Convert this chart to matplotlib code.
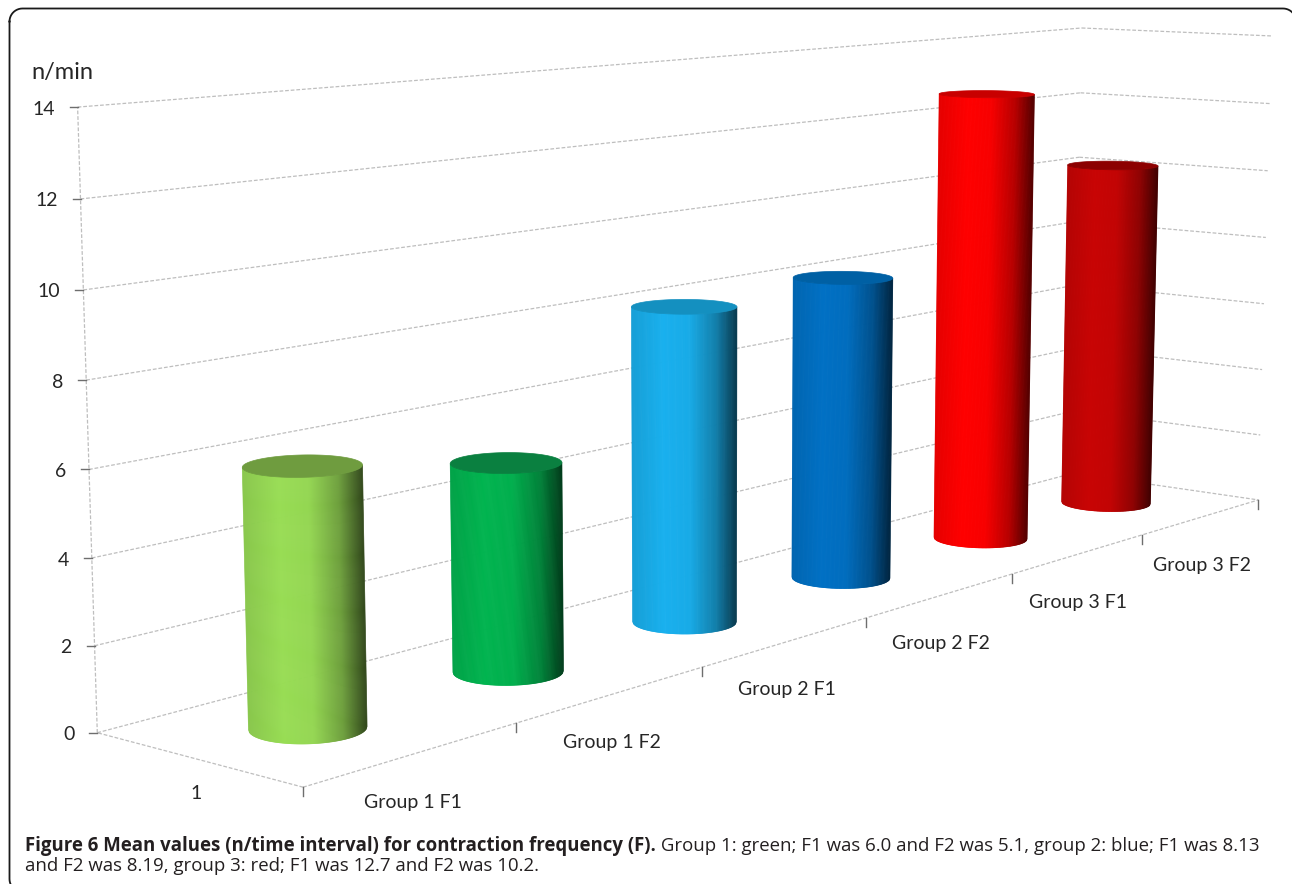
#!/usr/bin/env python3

import numpy as np
import matplotlib
matplotlib.use("Agg")
import matplotlib.pyplot as plt
from matplotlib.collections import PolyCollection
from matplotlib.patches import Polygon
from matplotlib.colors import to_rgb

categories = ["Group 1 F1", "Group 1 F2", "Group 2 F1", "Group 2 F2", "Group 3 F1", "Group 3 F2"]
values = [6.0, 5.1, 8.13, 8.19, 12.7, 10.2]
value_ticks = [0, 2, 4, 6, 8, 10, 12, 14]
depth_label = "1"
unit_label = "n/min"

bar_colors = ["#98dd54", "#00b44f", "#18b0ee", "#0070c4", "#ff0000", "#c80404"]
cap_colors = ["#6f9c3f", "#0a8040", "#1490c0", "#0060a4", "#c80000", "#8c0000"]

caption_bold = "Figure 6 Mean values (n/time interval) for contraction frequency (F)."
caption_rest = " Group 1: green; F1 was 6.0 and F2 was 5.1, group 2: blue; F1 was 8.13"
caption_line2 = "and F2 was 8.19, group 3: red; F1 was 12.7 and F2 was 10.2."

WIDTH, HEIGHT = 1292, 884
GRID = "#bebebe"
TICK = "#6e6e6e"
TEXT = "#262626"

plt.rcParams["font.family"] = ["Lato", "DejaVu Sans"]

fig = plt.figure(figsize=(WIDTH / 100, HEIGHT / 100), dpi=100)
ax = fig.add_axes([0, 0, 1, 1])
ax.set_xlim(0, WIDTH)
ax.set_ylim(HEIGHT, 0)
ax.axis("off")

### Camera: fitted from where the corners of the chart box land on the page
n_cat = len(categories)
z_top = value_ticks[-1]
corners = [
    ((0, 0, 0), (303, 787)),
    ((n_cat, 0, 0), (1257, 500)),
    ((0, 1, 0), (97, 733)),
    ((n_cat, 1, 0), (1075, 473)),
    ((0, 1, z_top), (78, 107)),
    ((n_cat, 1, z_top), (1080, 28)),
    ((n_cat, 0, z_top), (1273, 36)),
]
rows, rhs = [], []
for (X, Y, Z), (u, v) in corners:
    rows.append([X, Y, Z, 1, 0, 0, 0, 0, -u * X, -u * Y, -u * Z])
    rhs.append(u)
    rows.append([0, 0, 0, 0, X, Y, Z, 1, -v * X, -v * Y, -v * Z])
    rhs.append(v)
cam = np.append(np.linalg.lstsq(np.array(rows, float), np.array(rhs, float), rcond=None)[0], 1).reshape(3, 4)


def project(x, y, z):
    x, y, z = np.broadcast_arrays(np.asarray(x, float), np.asarray(y, float), np.asarray(z, float))
    pts = cam @ np.stack([x, y, z, np.ones_like(x)])
    return pts[0] / pts[2], pts[1] / pts[2]


def grid_line(a, b):
    s = np.linspace(0, 1, 30)
    xs, ys = project(a[0] + (b[0] - a[0]) * s, a[1] + (b[1] - a[1]) * s, a[2] + (b[2] - a[2]) * s)
    ax.plot(xs, ys, color=GRID, lw=0.9, ls=(0, (3, 1.5)), zorder=1)


### Walls and floor
for tick in value_ticks:
    grid_line((0, 1, tick), (n_cat, 1, tick))
    grid_line((n_cat, 1, tick), (n_cat, 0, tick))
    px, py = project(0, 1, tick)
    ax.plot([px - 8, px], [py, py], color=TICK, lw=1.0, zorder=2)
    ax.text(px - 23, py + 2, str(tick), ha="right", va="center", fontsize=14, color=TEXT)
grid_line((0, 1, 0), (0, 1, z_top))
grid_line((0, 0, 0), (n_cat, 0, 0))
grid_line((0, 0, 0), (0, 1, 0))

for i in range(n_cat + 1):
    px, py = project(i, 0, 0)
    ax.plot([px, px], [py, py + 9], color=TICK, lw=1.0, zorder=2)

for i, label in enumerate(categories):
    px, py = project(i + 0.5, 0, 0)
    ax.text(px, py + 48, label, ha="center", va="center", fontsize=14, color=TEXT)

px, py = project(0, 0.5, 0)
ax.text(px - 1, py + 34, depth_label, ha="center", va="center", fontsize=14, color=TEXT)
ax.text(31, 73, unit_label, ha="left", va="center", fontsize=17, color=TEXT)


### Cylinders
def shade(base, f):
    stops = [0.0, 0.3, 0.55, 0.8, 0.95, 1.0]
    gains = [0.90, 1.0, 0.97, 0.72, 0.42, 0.32]
    return tuple(np.array(to_rgb(base)) * np.interp(f, stops, gains))


def front_arc(xs, ys, grid):
    # lower edge of an ellipse on the page, read at the given page x positions
    left, right = xs.argmin(), xs.argmax()
    order = np.arange(left, right + 1) if left < right else np.arange(right, left + 1)
    outer = np.r_[np.arange(right, len(xs)), np.arange(0, left + 1)] if left < right else None
    for idx in (order, outer):
        if idx is None:
            continue
        if ys[idx].mean() > ys[[left, right]].mean():
            sort = np.argsort(xs[idx])
            return np.interp(grid, xs[idx][sort], ys[idx][sort])
    outer = np.r_[np.arange(left, len(xs)), np.arange(0, right + 1)]
    sort = np.argsort(xs[outer])
    return np.interp(grid, xs[outer][sort], ys[outer][sort])


theta = np.linspace(0, 2 * np.pi, 361)[:-1]
bands = np.linspace(0, 1, 121)
for i, value in enumerate(values):
    cx = i + 0.5 + 0.2 * np.cos(theta)
    cy = 0.5 + 0.2 * np.sin(theta)
    bx, by = project(cx, cy, 0)
    tx, ty = project(cx, cy, value)
    low_x = bx.min() + bands * (bx.max() - bx.min())
    top_x = tx.min() + bands * (tx.max() - tx.min())
    low_y = front_arc(bx, by, low_x)
    top_y = front_arc(tx, ty, top_x)
    polys, cols = [], []
    for k in range(len(bands) - 1):
        polys.append([(low_x[k], low_y[k]), (low_x[k + 1], low_y[k + 1]),
                      (top_x[k + 1], top_y[k + 1]), (top_x[k], top_y[k])])
        cols.append(shade(bar_colors[i], bands[k]))
    ax.add_collection(PolyCollection(polys, facecolors=cols, edgecolors=cols, linewidths=0.5, zorder=3 + i))
    ax.add_patch(Polygon(np.column_stack([tx, ty]), closed=True, facecolor=cap_colors[i],
                         edgecolor=cap_colors[i], lw=0.5, zorder=3 + i))

### Frame and caption, the frame runs off the bottom and right of the page
left, right, top, bottom, radius = 9.5, 1296, 8.5, 892, 13
arc = np.linspace(0, np.pi / 2, 12)
frame_x = np.r_[left + radius - radius * np.cos(arc), right - radius + radius * np.sin(arc),
                right - radius + radius * np.cos(arc), left + radius - radius * np.sin(arc)]
frame_y = np.r_[top + radius - radius * np.sin(arc), top + radius - radius * np.cos(arc),
                bottom - radius + radius * np.sin(arc), bottom - radius + radius * np.cos(arc)]
ax.plot(np.r_[frame_x, frame_x[0]], np.r_[frame_y, frame_y[0]], color="#1a1a1a", lw=1.3, zorder=20)

cap_font = ["Open Sans", "DejaVu Sans"]
first = ax.text(25, 846, caption_bold, ha="left", va="center", fontsize=13.4, fontweight="bold",
                family=cap_font, color="#231f20")
fig.canvas.draw()
end = first.get_window_extent().x1
ax.text(end, 846, caption_rest, ha="left", va="center", fontsize=13.4, family=cap_font, color="#231f20")
ax.text(25, 866, caption_line2, ha="left", va="center", fontsize=13.4, family=cap_font, color="#231f20")

fig.savefig("out.png", dpi=100, facecolor="white")
